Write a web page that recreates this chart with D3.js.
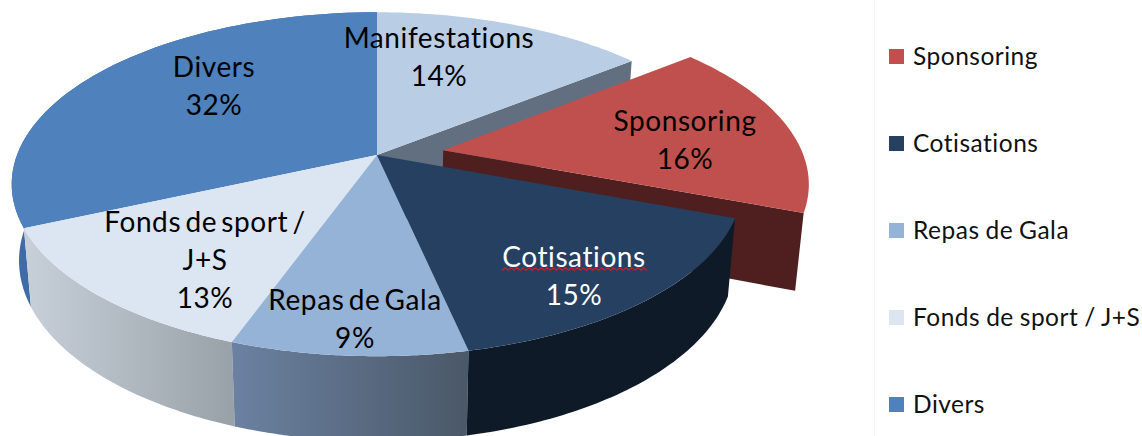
<!DOCTYPE html>
<html>
<head>
<meta charset="utf-8">
<script src="https://cdn.jsdelivr.net/npm/d3@7"></script>
<style>
  html, body { margin: 0; padding: 0; background: #fff; }
  svg { display: block; }
</style>
</head>
<body>
<div id="chart"></div>
<script>
var categories = ["Manifestations", "Sponsoring", "Cotisations", "Repas de Gala", "Fonds de sport / J+S", "Divers"];
// slice widths, the printed labels are rounded
var shares = [14.3, 16.5, 15.8, 8.9, 12.8, 31.7];
var percentLabels = ["14%", "16%", "15%", "9%", "13%", "32%"];
var legendItems = ["Sponsoring", "Cotisations", "Repas de Gala", "Fonds de sport / J+S", "Divers"];

var labelLines = [["Manifestations"], ["Sponsoring"], ["Cotisations"], ["Repas de Gala"], ["Fonds de sport /", "J+S"], ["Divers"]];
var labelAnchors = [[439, 38], [685, 121], [574, 257], [355, 300], [205, 222], [214, 67]];

var topColor = d3.scaleOrdinal().domain(categories)
  .range(["#b9cde5", "#c0504d", "#254061", "#95b3d7", "#dce6f2", "#4f81bd"]);
var sideColor = d3.scaleOrdinal().domain(categories)
  .range(["#616f80", "#4f1f1f", "#0f1a29", "url(#sideRepas)", "url(#sideFonds)", "#3f6ca6"]);

var width = 1142, height = 436;
var fontFamily = "Lato";
var labelSize = 28, legendSize = 24.5, lineHeight = 38;

// pie plane, unit circle seen through a small perspective
var cx = 377, cy = 155;
var radiusX = 360, radiusY = 167;
var persp = 0.17;
var explode = 0.187;
var exploded = "Sponsoring";
var drop = 75;

var x = d3.scaleLinear().domain([-1, 1]).range([cx - radiusX, cx + radiusX]);
var y = d3.scaleLinear().domain([-1, 1]).range([cy - radiusY, cy + radiusY]);

function project(px, py, low) {
  var w = 1 - persp * py;
  var sx = x(px / w), sy = y(py / w);
  if (!low) return [sx, sy];
  return [cx + (sx - cx) * 0.98, cy + drop + (sy - cy) * 1.05];
}

var svg = d3.select("#chart").append("svg")
  .attr("width", width)
  .attr("height", height);

var defs = svg.append("defs");
function sideGradient(id, x1, x2, from, to) {
  var g = defs.append("linearGradient").attr("id", id)
    .attr("gradientUnits", "userSpaceOnUse")
    .attr("x1", x1).attr("x2", x2).attr("y1", 0).attr("y2", 0);
  g.append("stop").attr("offset", 0).attr("stop-color", from);
  g.append("stop").attr("offset", 1).attr("stop-color", to);
}
sideGradient("sideFonds", 30, 230, "#c6ced8", "#9aa2a9");
sideGradient("sideRepas", 230, 468, "#6c82a2", "#4a5868");

var slices = d3.pie().sort(null).value(function(d) { return d; })(shares)
  .map(function(d, i) {
    var mid = (d.startAngle + d.endAngle) / 2;
    var off = categories[i] === exploded ? explode : 0;
    return {
      name: categories[i],
      start: d.startAngle,
      end: d.endAngle,
      ox: off * Math.sin(mid),
      oy: -off * Math.cos(mid)
    };
  });

function rimPoints(s, low) {
  var steps = 60;
  var angle = d3.scaleLinear().domain([0, steps]).range([s.start, s.end]);
  return d3.range(steps + 1).map(function(i) {
    var a = angle(i);
    return project(s.ox + Math.sin(a), s.oy - Math.cos(a), low);
  });
}

var line = d3.line();
function closed(points) { return line(points) + "Z"; }

function drawTop(s) {
  svg.append("path")
    .attr("d", closed([project(s.ox, s.oy, false)].concat(rimPoints(s, false))))
    .attr("fill", topColor(s.name));
}
function drawRim(s) {
  svg.append("path")
    .attr("d", closed(rimPoints(s, false).concat(rimPoints(s, true).reverse())))
    .attr("fill", sideColor(s.name));
}
// flat cut face along the end angle of a slice
function drawCut(s) {
  var px = s.ox + Math.sin(s.end), py = s.oy - Math.cos(s.end);
  svg.append("path")
    .attr("d", closed([
      project(s.ox, s.oy, false), project(px, py, false),
      project(px, py, true), project(s.ox, s.oy, true)
    ]))
    .attr("fill", sideColor(s.name));
}

// back to front
drawCut(slices[0]);
drawTop(slices[0]);
drawCut(slices[1]);
drawTop(slices[1]);
[5, 4, 3, 2].forEach(function(i) { drawRim(slices[i]); });
[5, 4, 3, 2].forEach(function(i) { drawTop(slices[i]); });

// data labels
slices.forEach(function(s, i) {
  var text = svg.append("text")
    .attr("text-anchor", "middle")
    .attr("font-family", fontFamily)
    .attr("font-size", labelSize)
    .attr("letter-spacing", 0.6)
    .attr("word-spacing", -3.5)
    .attr("fill", s.name === "Cotisations" ? "#ffffff" : "#000000");
  labelLines[i].concat([percentLabels[i]]).forEach(function(t, k) {
    text.append("tspan")
      .attr("x", labelAnchors[i][0])
      .attr("y", labelAnchors[i][1] + 10 + k * lineHeight)
      .text(t);
  });
});

// red spell check squiggle under Cotisations
var squiggle = d3.scaleLinear().domain([0, 48]).range([502, 647]);
svg.append("path")
  .attr("d", d3.line()(d3.range(49).map(function(i) {
    return [squiggle(i), 269 + (i % 2 ? -1.2 : 1.2)];
  })))
  .attr("fill", "none")
  .attr("stroke", "#c8202a")
  .attr("stroke-width", 1.2);

// legend
svg.append("line")
  .attr("x1", 874.5).attr("x2", 874.5)
  .attr("y1", 0).attr("y2", height)
  .attr("stroke", "#f2f2f2");

var legendY = d3.scalePoint().domain(legendItems).range([57, 405]);
var legend = svg.selectAll("g.legend").data(legendItems).enter().append("g")
  .attr("class", "legend")
  .attr("transform", function(d) { return "translate(889," + legendY(d) + ")"; });
legend.append("rect")
  .attr("x", 0).attr("y", -8)
  .attr("width", 15).attr("height", 15)
  .attr("fill", function(d) { return topColor(d); });
legend.append("text")
  .attr("x", 24).attr("y", 8)
  .attr("font-family", fontFamily)
  .attr("font-size", legendSize)
  .attr("letter-spacing", 0.5)
  .attr("word-spacing", -0.8)
  .attr("fill", "#111111")
  .text(function(d) { return d; });
</script>
</body>
</html>
